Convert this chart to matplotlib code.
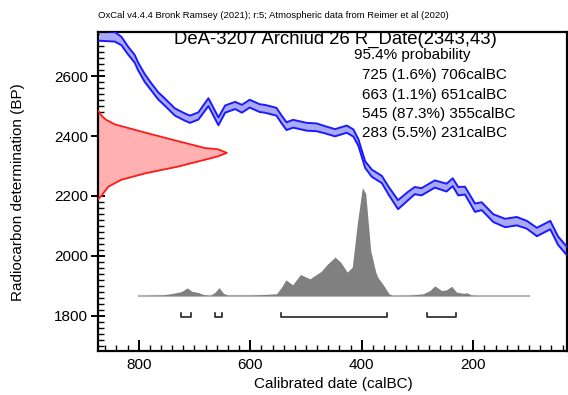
import numpy as np
import matplotlib
matplotlib.use("Agg")
import matplotlib.pyplot as plt
from matplotlib.ticker import MultipleLocator

plt.rcParams['font.family'] = ['Liberation Sans', 'DejaVu Sans']

# calibration curve (IntCal20 band), calBC vs BP
curve_cal = [871, 843, 831, 819, 807, 801, 789, 777, 765, 753, 735, 717, 708, 693, 675,
             657, 645, 627, 615, 601, 583, 574, 553, 544, 535, 523, 499, 481, 466, 448,
             427, 415, 406, 394, 382, 364, 352, 335, 317, 305, 293, 269, 248, 237, 227,
             215, 197, 185, 164, 143, 122, 104, 86, 62, 48, 32]
curve_bp = [2735, 2731, 2717, 2685, 2657, 2632, 2593, 2563, 2534, 2513, 2480, 2463, 2456, 2467, 2513,
            2449, 2490, 2502, 2491, 2508, 2493, 2491, 2481, 2456, 2433, 2441, 2431, 2429, 2421, 2411,
            2423, 2410, 2378, 2305, 2276, 2255, 2218, 2171, 2200, 2218, 2214, 2240, 2228, 2246, 2216,
            2218, 2161, 2166, 2126, 2110, 2116, 2104, 2080, 2103, 2051, 2016]
curve_err = [17, 16, 14, 13, 13, 13, 13, 12, 12, 12, 12, 12, 12, 12, 13,
             13, 12, 12, 13, 13, 13, 13, 13, 13, 13, 13, 13, 13, 12, 12,
             12, 12, 11, 11, 12, 12, 13, 15, 14, 12, 12, 12, 13, 13, 14,
             13, 14, 13, 13, 14, 14, 13, 14, 14, 14, 14]

# radiocarbon measurement 2343 +/- 43 BP (relative probability)
meas_bp = [2485, 2467, 2455, 2439, 2411, 2383, 2360, 2356, 2344, 2332, 2321, 2298, 2276, 2254, 2231, 2203, 2188]
meas_p = [0.0, 0.03, 0.06, 0.13, 0.37, 0.62, 0.83, 0.93, 1.0, 0.93, 0.83, 0.62, 0.37, 0.18, 0.08, 0.03, 0.0]

# calibrated probability distribution (relative)
post_cal = [800, 756, 738, 723, 713, 705, 693, 684, 672, 663, 656, 648, 640, 606, 577,
            553, 544, 536, 524, 510, 493, 473, 462, 448, 438, 426, 417, 408, 399, 393,
            384, 375, 371, 363, 351, 345, 314, 290, 278, 269, 257, 248, 239, 230, 218,
            211, 203, 194, 100]
post_p = [0.0, 0.006, 0.021, 0.037, 0.071, 0.040, 0.028, 0.009, 0.0, 0.031, 0.074, 0.021, 0.003, 0.003, 0.009,
          0.016, 0.077, 0.146, 0.099, 0.195, 0.155, 0.223, 0.288, 0.357, 0.310, 0.217, 0.264, 0.669, 1.0, 0.947,
          0.418, 0.217, 0.167, 0.111, 0.016, 0.0, 0.003, 0.016, 0.046, 0.090, 0.046, 0.053, 0.086, 0.031, 0.021,
          0.025, 0.003, 0.0, 0.0]

# 95.4% ranges
range_from = [725, 663, 545, 283]
range_to = [706, 651, 355, 231]
range_pct = ["1.6%", "1.1%", "87.3%", "5.5%"]

W, H = 568, 395
fig = plt.figure(figsize=(W / 100, H / 100), dpi=100)
ax = fig.add_axes([98 / W, 1 - 351 / H, 469 / W, 319 / H])
xlim = (873, 32)
ax.set_xlim(*xlim)
ax.set_ylim(1683, 2747)

# calibration curve band
cb = np.array(curve_bp)
ce = np.array(curve_err)
ax.fill_between(curve_cal, cb - ce, cb + ce, color='#a9a9f7', lw=0, zorder=2)
ax.plot(curve_cal, cb + ce, color='#1a1aff', lw=1.4, zorder=3)
ax.plot(curve_cal, cb - ce, color='#1a1aff', lw=1.4, zorder=3)

# measurement on y axis
mx = xlim[0] - np.array(meas_p) * 231
ax.fill_betweenx(meas_bp, xlim[0], mx, color='#ffb0b0', lw=0, zorder=2)
ax.plot(mx, meas_bp, color='#ff1a1a', lw=1.3, zorder=3)

# posterior distribution
base = 1868
ax.plot([post_cal[0], post_cal[-1]], [base, base], color='#b8b8b8', lw=1.6, zorder=2)
ax.fill_between(post_cal, base, base + np.array(post_p) * 360, color='#808080', lw=0, zorder=3)

# range brackets
yb = 1795
for a, b in zip(range_from, range_to):
    ax.plot([a, a, b, b], [yb + 15, yb, yb, yb + 15], color='#222222', lw=1.2, zorder=3)

ax.set_xticks([800, 600, 400, 200])
ax.set_yticks([1800, 2000, 2200, 2400, 2600])
ax.xaxis.set_minor_locator(MultipleLocator(20))
ax.yaxis.set_minor_locator(MultipleLocator(20))
ax.tick_params(axis='x', which='major', direction='in', length=8, width=1.4, labelsize=11, pad=5)
ax.tick_params(axis='x', which='minor', direction='in', length=4, width=1)
ax.tick_params(axis='y', which='major', direction='inout', length=10, width=1.4, labelsize=11, pad=2)
ax.tick_params(axis='y', which='minor', direction='in', length=4, width=1)
for s in ax.spines.values():
    s.set_linewidth(1.6)

fig.text(18 / W, 1 - 192 / H, "Radiocarbon determination (BP)", rotation=90,
         ha='center', va='center', fontsize=11)
fig.text(333 / W, 1 - 384 / H, "Calibrated date (calBC)", ha='center', va='center', fontsize=11)

fig.text(98 / W, 1 - 15 / H,
         "OxCal v4.4.4 Bronk Ramsey (2021); r:5; Atmospheric data from Reimer et al (2020)",
         ha='left', va='center', fontsize=6.8)
fig.text(335 / W, 1 - 39 / H, "DeA-3207 Archiud 26 R_Date(2343,43)",
         ha='center', va='center', fontsize=13.3)
fig.text(354 / W, 1 - 55.5 / H, "95.4% probability", ha='left', va='center', fontsize=11)
for i, (a, b, p) in enumerate(zip(range_from, range_to, range_pct)):
    fig.text(362 / W, 1 - (75 + 19.5 * i) / H, f"{a} ({p}) {b}calBC",
             ha='left', va='center', fontsize=11)

fig.savefig("out.png", dpi=100)
